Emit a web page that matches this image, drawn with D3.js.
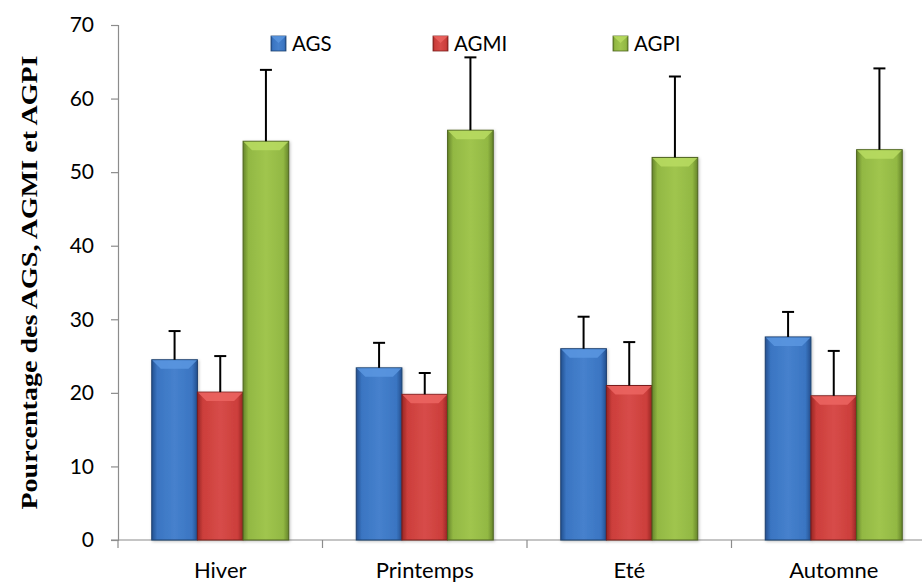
<!DOCTYPE html>
<html><head><meta charset="utf-8">
<script src="https://cdn.jsdelivr.net/npm/d3@7"></script>
<style>body{margin:0;background:#fff}svg{display:block}</style>
</head><body>
<svg id="chart" width="922" height="585"></svg>
<script>
const categories = ["Hiver", "Printemps", "Eté", "Automne"];
const seriesNames = ["AGS", "AGMI", "AGPI"];
const AGS = [24.5, 23.4, 26.0, 27.6];
const AGS_err = [3.9, 3.4, 4.35, 3.4];
const AGMI = [20.1, 19.8, 21.0, 19.6];
const AGMI_err = [4.9, 2.9, 5.9, 6.1];
const AGPI = [54.2, 55.7, 52.0, 53.05];
const AGPI_err = [9.7, 9.9, 11.0, 11.05];
const yTicks = [0, 10, 20, 30, 40, 50, 60, 70];
const yTitle = "Pourcentage des AGS, AGMI et AGPI";

(function () {
const values = [AGS, AGMI, AGPI];
const errs = [AGS_err, AGMI_err, AGPI_err];
const colors = [
  {fill: "#3a75c2", light: "#5b97e0", dark: "#24508f", stroke: "#1d416f"},
  {fill: "#cc3e3b", light: "#ec6562", dark: "#972624", stroke: "#7a1f1d"},
  {fill: "#92b843", light: "#b9dc62", dark: "#66852a", stroke: "#4e6420"}
];

const svg = d3.select("#chart");
const mLeft = 118, mRight = 936, mTop = 25, mBottom = 540;
const x = d3.scaleBand().domain(categories).range([mLeft, mRight]).paddingInner(0).paddingOuter(0);
const y = d3.scaleLinear().domain([0, 70]).range([mBottom, mTop]);
const groupPad = 0.165;
const xs = d3.scaleBand().domain(seriesNames)
  .range([x.bandwidth() * groupPad, x.bandwidth() * (1 - groupPad)]).padding(0);

const defs = svg.append("defs");
colors.forEach((c, i) => {
  const g = defs.append("linearGradient").attr("id", "g" + i).attr("x1", 0).attr("x2", 1).attr("y1", 0).attr("y2", 0);
  g.append("stop").attr("offset", "0%").attr("stop-color", c.dark);
  g.append("stop").attr("offset", "12%").attr("stop-color", c.fill);
  g.append("stop").attr("offset", "50%").attr("stop-color", d3.interpolateRgb(c.fill, c.light)(0.35));
  g.append("stop").attr("offset", "88%").attr("stop-color", c.fill);
  g.append("stop").attr("offset", "100%").attr("stop-color", c.dark);
});
const sh = defs.append("filter").attr("id", "shadow").attr("x", "-20%").attr("y", "-5%").attr("width", "140%").attr("height", "115%");
sh.append("feDropShadow").attr("dx", 1).attr("dy", 1).attr("stdDeviation", 1.5).attr("flood-color", "#000").attr("flood-opacity", 0.25);

// Y axis
const yAxis = d3.axisLeft(y).tickValues(yTicks).tickSize(7).tickPadding(17).tickFormat(d3.format("d"));
const ya = svg.append("g").attr("transform", `translate(${mLeft},0)`).call(yAxis);
ya.select(".domain").attr("stroke", "#8c8c8c").attr("stroke-width", 1.2);
ya.selectAll(".tick line").attr("stroke", "#8c8c8c").attr("stroke-width", 1.2);
ya.selectAll(".tick text").attr("font-family", "Lato, 'Open Sans', sans-serif").attr("font-size", 21).attr("fill", "#000");

// X axis
const xAxisG = svg.append("g").attr("transform", `translate(0,${mBottom})`);
xAxisG.append("line").attr("x1", mLeft - 7).attr("x2", 922).attr("y1", 0).attr("y2", 0).attr("stroke", "#8c8c8c").attr("stroke-width", 1.2);
const bounds = categories.map(c => x(c)).concat([x(categories[categories.length - 1]) + x.bandwidth()]);
xAxisG.selectAll(".xt").data(bounds).enter().append("line")
  .attr("x1", d => d).attr("x2", d => d).attr("y1", 0).attr("y2", 8)
  .attr("stroke", "#8c8c8c").attr("stroke-width", 1.2);
xAxisG.selectAll(".xl").data(categories).enter().append("text")
  .attr("x", d => x(d) + x.bandwidth() / 2).attr("y", 38)
  .attr("text-anchor", "middle").attr("font-family", "Lato, 'Open Sans', sans-serif").attr("font-size", 22).attr("fill", "#000")
  .text(d => d);

// Bars
seriesNames.forEach((s, si) => {
  const c = colors[si];
  const g = svg.append("g");
  categories.forEach((cat, ci) => {
    const v = values[si][ci];
    const bx = x(cat) + xs(s), bw = xs.bandwidth();
    const by = y(v), bh = y(0) - y(v);
    g.append("rect").attr("x", bx).attr("y", by).attr("width", bw).attr("height", bh)
      .attr("fill", `url(#g${si})`).attr("stroke", c.stroke).attr("stroke-width", 1).attr("filter", "url(#shadow)");
    const bev = 9;
    g.append("polygon")
      .attr("points", [[bx + 0.5, by + 0.5], [bx + bw - 0.5, by + 0.5], [bx + bw - bev, by + bev], [bx + bev, by + bev]].map(p => p.join(",")).join(" "))
      .attr("fill", c.light).attr("opacity", 0.85);
    const ex = bx + bw / 2, ey = y(v + errs[si][ci]);
    g.append("line").attr("x1", ex).attr("x2", ex).attr("y1", by).attr("y2", ey).attr("stroke", "#000").attr("stroke-width", 2);
    g.append("line").attr("x1", ex - 6).attr("x2", ex + 6).attr("y1", ey).attr("y2", ey).attr("stroke", "#000").attr("stroke-width", 2);
  });
});

// Legend
const legendX = [271, 433, 613];
const lg = svg.append("g");
seriesNames.forEach((s, i) => {
  const c = colors[i];
  lg.append("rect").attr("x", legendX[i]).attr("y", 36).attr("width", 15).attr("height", 15)
    .attr("fill", `url(#g${i})`).attr("stroke", c.stroke).attr("stroke-width", 0.8);
  lg.append("polygon")
    .attr("points", [[legendX[i], 36], [legendX[i] + 15, 36], [legendX[i] + 7.5, 43]].map(p => p.join(",")).join(" "))
    .attr("fill", c.light).attr("opacity", 0.8);
  lg.append("text").attr("x", legendX[i] + 21).attr("y", 50.7)
    .attr("font-family", "Lato, 'Open Sans', sans-serif").attr("font-size", 20.5).attr("fill", "#000").text(s);
});

// Y title
svg.append("text")
  .attr("transform", `translate(37,282.5) rotate(-90)`)
  .attr("text-anchor", "middle")
  .attr("font-family", "'Liberation Serif', 'Times New Roman', serif").attr("font-weight", "bold")
  .attr("font-size", 23).attr("fill", "#000")
  .attr("textLength", 454).attr("lengthAdjust", "spacingAndGlyphs")
  .text(yTitle);
})();
</script>
</body></html>
